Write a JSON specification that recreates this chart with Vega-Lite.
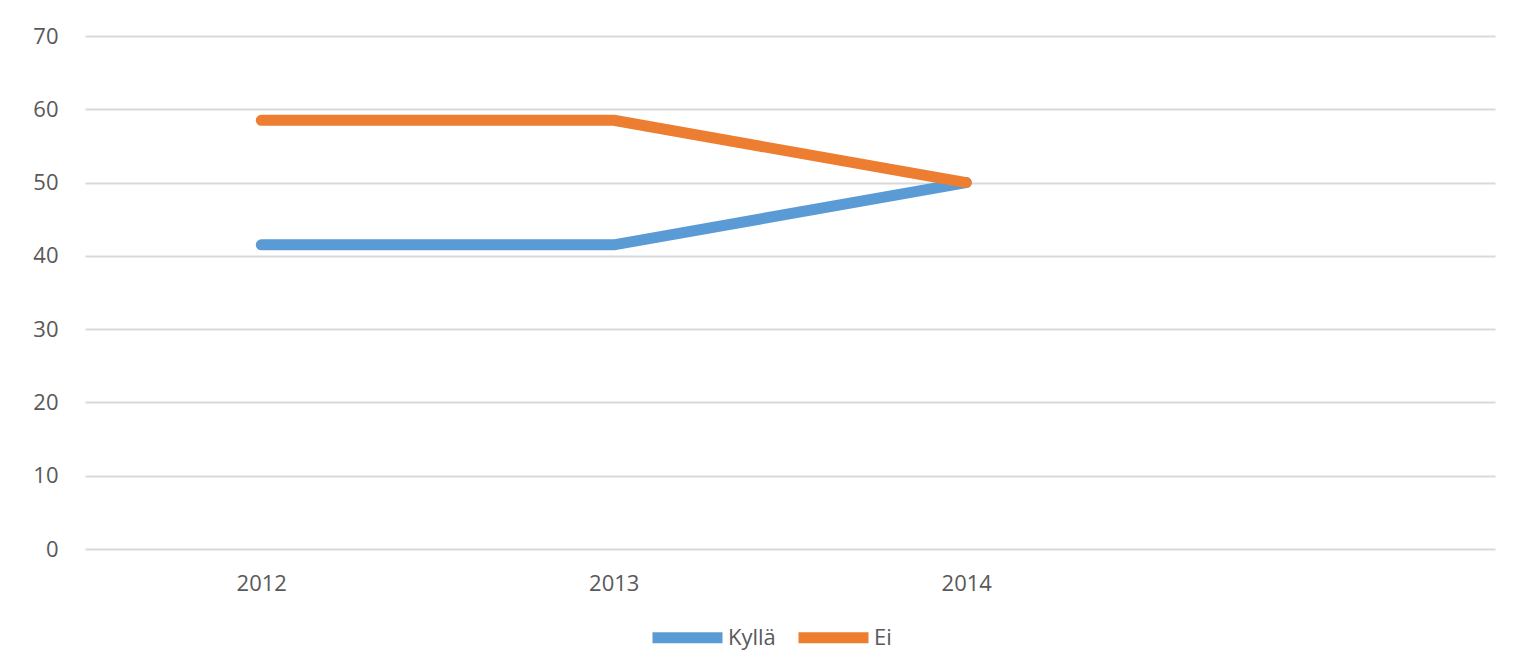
{
  "$schema": "https://vega.github.io/schema/vega-lite/v6.json",
  "width": 1410,
  "height": 513,
  "autosize": {"type": "none"},
  "padding": {"left": 85, "top": 36, "right": 27, "bottom": 118},
  "background": "white",
  "config": {
    "view": {"stroke": null},
    "font": "Open Sans",
    "axis": {"labelFont": "Open Sans", "labelColor": "#595959", "labelFontSize": 22},
    "legend": {"labelFont": "Open Sans", "labelColor": "#595959", "labelFontSize": 22}
  },
  "data": {
    "values": [
      {"year": "2012", "series": "Kyllä", "value": 41.5},
      {"year": "2013", "series": "Kyllä", "value": 41.5},
      {"year": "2014", "series": "Kyllä", "value": 50},
      {"year": "2012", "series": "Ei", "value": 58.5},
      {"year": "2013", "series": "Ei", "value": 58.5},
      {"year": "2014", "series": "Ei", "value": 50}
    ]
  },
  "mark": {"type": "line", "strokeWidth": 11, "strokeCap": "round", "strokeJoin": "round"},
  "encoding": {
    "x": {
      "field": "year",
      "type": "ordinal",
      "scale": {"type": "point", "domain": ["2012", "2013", "2014", "2015"], "padding": 0.5},
      "axis": {
        "title": null,
        "labelAngle": 0,
        "domain": false,
        "ticks": false,
        "labelPadding": 24,
        "labelExpr": "datum.value == '2015' ? '' : datum.value"
      }
    },
    "y": {
      "field": "value",
      "type": "quantitative",
      "scale": {"domain": [0, 70], "nice": false},
      "axis": {
        "title": null,
        "values": [0, 10, 20, 30, 40, 50, 60, 70],
        "domain": false,
        "ticks": false,
        "labelPadding": 27,
        "grid": true,
        "gridColor": "#d9d9d9",
        "gridWidth": 2
      }
    },
    "color": {
      "field": "series",
      "type": "nominal",
      "scale": {"domain": ["Kyllä", "Ei"], "range": ["#5B9BD5", "#ED7D31"]},
      "legend": {
        "title": null,
        "orient": "none",
        "legendX": 562,
        "legendY": 561,
        "direction": "horizontal",
        "symbolType": "stroke",
        "symbolSize": 4900,
        "symbolStrokeWidth": 11,
        "labelOffset": 0,
        "columnPadding": 0
      }
    },
    "order": {"field": "year"}
  }
}
